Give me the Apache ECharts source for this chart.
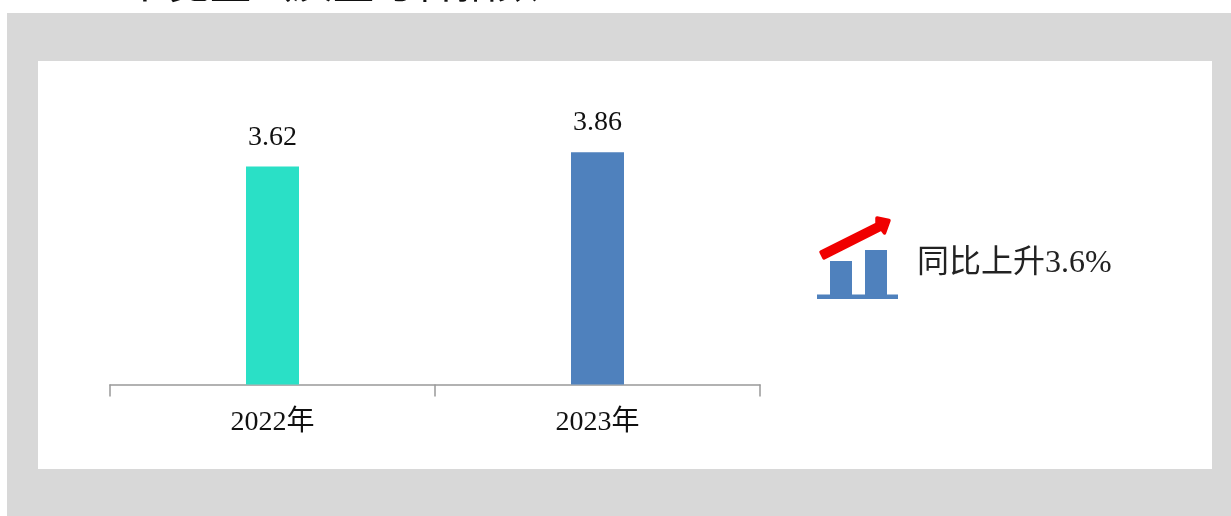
<!DOCTYPE html>
<html>
<head>
<meta charset="utf-8">
<style>html,body{margin:0;padding:0;background:#fff}#c{width:1231px;height:516px}</style>
<script src="https://cdn.jsdelivr.net/npm/echarts@6/dist/echarts.min.js"></script>
</head>
<body>
<div id="c"></div>
<script>
const categories = ['2022年', '2023年'];
const values = [3.62, 3.86];
const barColors = ['#2AE0C6', '#4F81BD'];
const calloutText = '同比上升3.6%';
const clippedHeading = '卜宽量（质量与各指数';

const FONT = '"Liberation Serif","Noto Sans CJK SC",serif';
const chart = echarts.init(document.getElementById('c'), null, {renderer: 'canvas'});
chart.setOption({
  animation: false,
  backgroundColor: '#fff',
  grid: {left: 110, width: 650, top: 83.5, height: 301},
  xAxis: {
    type: 'category',
    data: categories,
    axisLine: {lineStyle: {color: '#999', width: 1.5}},
    axisTick: {show: true, length: 12, lineStyle: {color: '#999', width: 1.5}},
    axisLabel: {color: '#111', fontFamily: FONT, fontSize: 28, margin: 24}
  },
  yAxis: {type: 'value', min: 0, max: 5, show: false},
  series: [{
    type: 'bar',
    data: values,
    barWidth: 53,
    z: 5,
    itemStyle: {color: p => barColors[p.dataIndex]},
    label: {show: true, position: 'top', distance: 15, color: '#111',
      fontFamily: FONT, fontSize: 28, formatter: p => p.value.toFixed(2)}
  }],
  graphic: [
    {type: 'rect', z: -10, shape: {x: 7, y: 13, width: 1224, height: 503}, style: {fill: '#D8D8D8'}},
    {type: 'rect', z: -9, shape: {x: 38, y: 61, width: 1174, height: 408}, style: {fill: '#fff'}},
    {type: 'text', z: -8, x: 128, y: -38, style: {text: clippedHeading, fill: '#111',
      fontFamily: '"Noto Sans CJK SC"', fontSize: 41}},
    {type: 'rect', z: 6, shape: {x: 817, y: 294.5, width: 81, height: 4.5}, style: {fill: '#4F81BD'}},
    {type: 'rect', z: 6, shape: {x: 830, y: 261, width: 22, height: 34}, style: {fill: '#4F81BD'}},
    {type: 'rect', z: 6, shape: {x: 865, y: 250, width: 22, height: 45}, style: {fill: '#4F81BD'}},
    {type: 'polygon', z: 7, shape: {points: [[821,252],[877,224],[877,218],[889,220.5],[884.5,233],[881.5,229],[824,258]]},
      style: {fill: '#F00000', stroke: '#F00000', lineWidth: 3.5, lineJoin: 'round'}},
    {type: 'text', z: 7, x: 917, y: 264, style: {text: calloutText, fill: '#222',
      fontFamily: FONT, fontSize: 32, verticalAlign: 'middle'}}
  ]
});
</script>
</body>
</html>
